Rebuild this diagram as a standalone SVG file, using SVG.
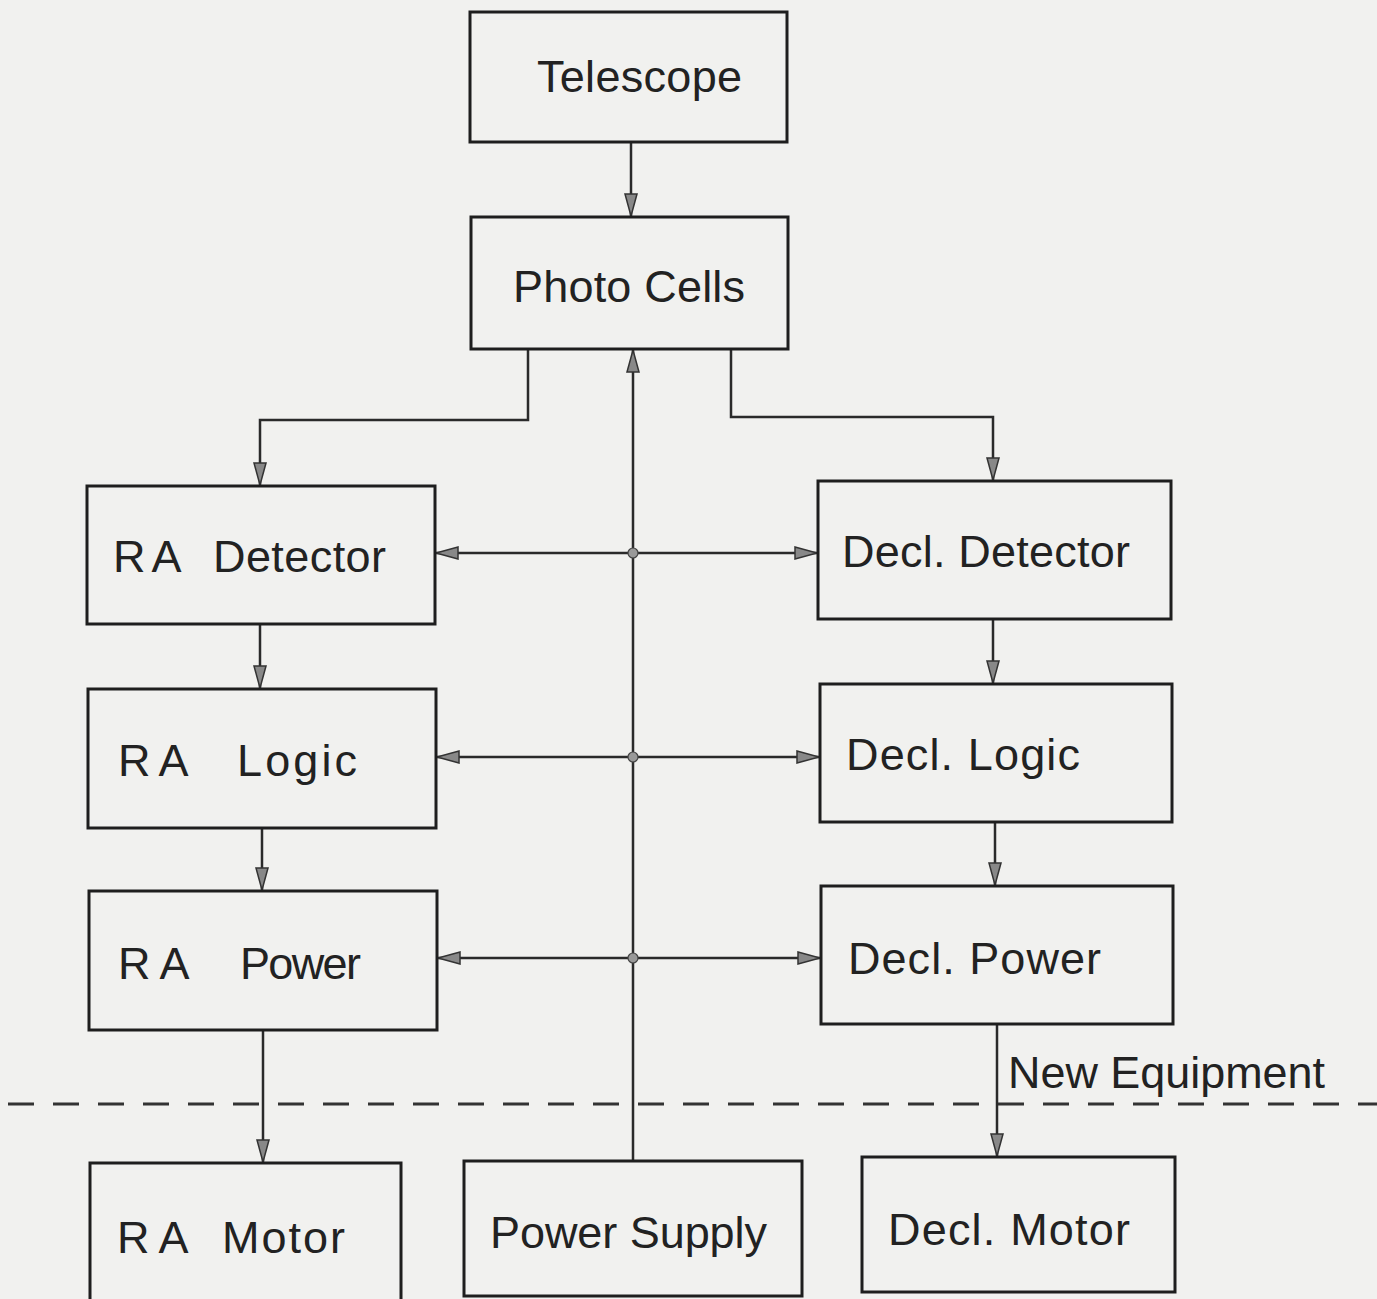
<svg xmlns="http://www.w3.org/2000/svg" width="1377" height="1299" viewBox="0 0 1377 1299">
<style>
.box{fill:none;stroke:#1e1e1e;stroke-width:3}
.lbl{font-family:"Liberation Sans",Arial,sans-serif;font-size:45px;fill:#222}
.wire{fill:none;stroke:#2a2a2a;stroke-width:2.5}
.dash{fill:none;stroke:#333;stroke-width:3;stroke-dasharray:26 19}
.dot{fill:#999;stroke:#444;stroke-width:1.2}
</style>
<defs>
<marker id="arr" viewBox="0 0 24 14" refX="23" refY="7" markerWidth="24" markerHeight="14" markerUnits="userSpaceOnUse" orient="auto-start-reverse">
<path d="M1,1 L23,7 L1,13 Z" fill="#888" stroke="#333" stroke-width="1.5"/>
</marker>
</defs>
<rect width="1377" height="1299" fill="#f1f1ef"/>

<g id="connectors">
<line class="wire" x1="631" y1="142" x2="631" y2="216" marker-end="url(#arr)"/>
<polyline class="wire" points="528,349 528,420 260,420 260,485" marker-end="url(#arr)"/>
<polyline class="wire" points="731,349 731,417 993,417 993,480" marker-end="url(#arr)"/>
<line class="wire" x1="633" y1="1161" x2="633" y2="350" marker-end="url(#arr)"/>
<line class="wire" x1="436" y1="553" x2="817" y2="553" marker-start="url(#arr)" marker-end="url(#arr)"/>
<line class="wire" x1="437" y1="757" x2="819" y2="757" marker-start="url(#arr)" marker-end="url(#arr)"/>
<line class="wire" x1="438" y1="958" x2="820" y2="958" marker-start="url(#arr)" marker-end="url(#arr)"/>
<line class="wire" x1="260" y1="624" x2="260" y2="688" marker-end="url(#arr)"/>
<line class="wire" x1="262" y1="828" x2="262" y2="890" marker-end="url(#arr)"/>
<line class="wire" x1="263" y1="1030" x2="263" y2="1162" marker-end="url(#arr)"/>
<line class="wire" x1="993" y1="619" x2="993" y2="683" marker-end="url(#arr)"/>
<line class="wire" x1="995" y1="822" x2="995" y2="885" marker-end="url(#arr)"/>
<line class="wire" x1="997" y1="1024" x2="997" y2="1156" marker-end="url(#arr)"/>
<circle class="dot" cx="633" cy="553" r="5"/>
<circle class="dot" cx="633" cy="757" r="5"/>
<circle class="dot" cx="633" cy="958" r="5"/>
<line class="dash" x1="8" y1="1104" x2="1377" y2="1104"/>
<text class="lbl" x="1008" y="1088" textLength="317" lengthAdjust="spacingAndGlyphs">New Equipment</text>
</g>

<g id="telescope"><rect class="box" x="470" y="12" width="317" height="130"/><text class="lbl" x="537" y="92" textLength="205">Telescope</text></g>
<g id="photo-cells"><rect class="box" x="471" y="217" width="317" height="132"/><text class="lbl" x="513" y="302" textLength="232">Photo Cells</text></g>
<g id="ra-detector"><rect class="box" x="87" y="486" width="348" height="138"/><text class="lbl" y="572"><tspan x="113">R</tspan><tspan dx="6">A</tspan> <tspan x="213" textLength="173">Detector</tspan></text></g>
<g id="decl-detector"><rect class="box" x="818" y="481" width="353" height="138"/><text class="lbl" x="842" y="567" textLength="288">Decl. Detector</text></g>
<g id="ra-logic"><rect class="box" x="88" y="689" width="348" height="139"/><text class="lbl" y="776"><tspan x="118">R</tspan><tspan dx="8">A</tspan> <tspan x="237" textLength="120">Logic</tspan></text></g>
<g id="decl-logic"><rect class="box" x="820" y="684" width="352" height="138"/><text class="lbl" x="846" y="770" textLength="234">Decl. Logic</text></g>
<g id="ra-power"><rect class="box" x="89" y="891" width="348" height="139"/><text class="lbl" y="979"><tspan x="118">R</tspan><tspan dx="9">A</tspan> <tspan x="240" textLength="121">Power</tspan></text></g>
<g id="decl-power"><rect class="box" x="821" y="886" width="352" height="138"/><text class="lbl" x="848" y="974" textLength="253">Decl. Power</text></g>
<g id="ra-motor"><rect class="box" x="90" y="1163" width="311" height="140"/><text class="lbl" y="1253"><tspan x="117">R</tspan><tspan dx="9">A</tspan> <tspan x="222" textLength="123">Motor</tspan></text></g>
<g id="power-supply"><rect class="box" x="464" y="1161" width="338" height="135"/><text class="lbl" x="490" y="1248" textLength="277">Power Supply</text></g>
<g id="decl-motor"><rect class="box" x="862" y="1157" width="313" height="135"/><text class="lbl" x="888" y="1245" textLength="242">Decl. Motor</text></g>
</svg>
